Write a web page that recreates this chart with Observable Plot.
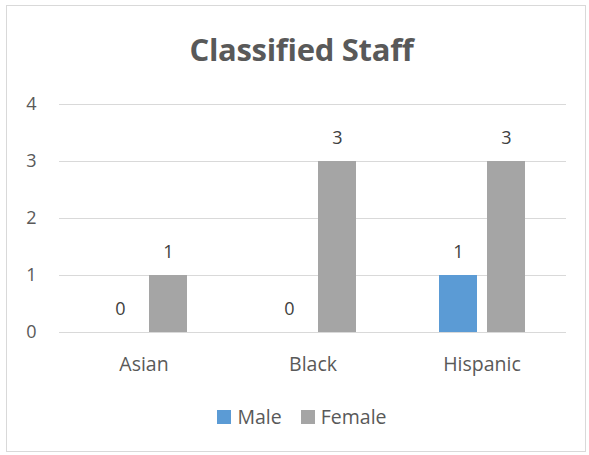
<!DOCTYPE html>
<html>
<head>
<meta charset="utf-8">
<script src="https://cdn.jsdelivr.net/npm/d3@7"></script>
<script src="https://cdn.jsdelivr.net/npm/@observablehq/plot@0.6"></script>
<style>
  body { margin: 0; background: #fff; font-family: "Open Sans", sans-serif; }
  #wrap { position: relative; width: 589px; height: 455px; overflow: hidden; }
  #frame { position: absolute; left: 6px; top: 5px; width: 580px; height: 447px; border: 1px solid #d9d9d9; box-sizing: border-box; }
  #title { position: absolute; left: 0; width: 603px; top: 31px; text-align: center; font-size: 31px; font-weight: 700; color: #595959; line-height: 1.2; letter-spacing: -0.3px; }
  #chart { position: absolute; left: 0; top: 0; }
  #legend { position: absolute; left: 0; width: 604px; top: 403px; display: flex; justify-content: center; gap: 19px; font-size: 19.5px; color: #595959; }
  #legend span.item { display: flex; align-items: center; gap: 6px; }
  #legend span.sw { width: 14px; height: 14px; display: inline-block; }
</style>
</head>
<body>
<div id="wrap">
  <div id="frame"></div>
  <div id="chart"></div>
  <div id="title">Classified Staff</div>
  <div id="legend"></div>
</div>
<script>
const categories = ["Asian", "Black", "Hispanic"];
const seriesNames = ["Male", "Female"];
const maleValues = [0, 0, 1];
const femaleValues = [1, 3, 3];
const yTicks = [0, 1, 2, 3, 4];
const colors = ["#5B9BD5", "#A5A5A5"];

const data = [];
categories.forEach((c, i) => {
  data.push({race: c, sex: "Male", value: maleValues[i]});
  data.push({race: c, sex: "Female", value: femaleValues[i]});
});

const plot = Plot.plot({
  width: 589,
  height: 390,
  marginTop: 104,
  marginBottom: 58,
  marginLeft: 58,
  marginRight: 22,
  style: {fontFamily: "'Open Sans', sans-serif", fontSize: "18px", color: "#595959", background: "transparent"},
  fx: {domain: categories, padding: 0, label: null},
  x: {domain: seriesNames, paddingInner: 0.21, paddingOuter: 0.86, axis: null},
  y: {domain: [0, 4], label: null, axis: null},
  color: {domain: seriesNames, range: colors},
  marks: [
    Plot.gridY(yTicks, {stroke: "#d9d9d9", strokeOpacity: 1, strokeWidth: 1}),
    Plot.axisY({ticks: yTicks, tickFormat: "d", tickSize: 0, tickPadding: 23, fontSize: 18, fill: "#595959", label: null}),
    Plot.axisFx({anchor: "bottom", tickSize: 0, tickPadding: 25, fontSize: 19.5, fill: "#595959", label: null}),
    Plot.barY(data, {fx: "race", x: "sex", y: "value", fill: "sex"}),
    Plot.text(data, {fx: "race", x: "sex", y: "value", text: d => String(d.value), dy: -23, fill: "#404040", fontSize: 18})
  ]
});
document.getElementById("chart").appendChild(plot);

const legend = document.getElementById("legend");
seriesNames.forEach((s, i) => {
  const item = document.createElement("span");
  item.className = "item";
  const sw = document.createElement("span");
  sw.className = "sw";
  sw.style.background = colors[i];
  item.appendChild(sw);
  item.appendChild(document.createTextNode(s));
  legend.appendChild(item);
});
</script>
</body>
</html>
